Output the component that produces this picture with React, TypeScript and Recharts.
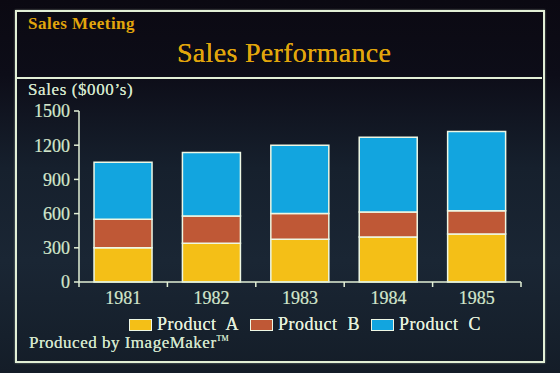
import { Bar, BarChart, XAxis, YAxis } from 'recharts'

const years = ['1981', '1982', '1983', '1984', '1985']
const productA = [300, 340, 375, 395, 420]
const productB = [250, 240, 225, 220, 205]
const productC = [500, 555, 600, 655, 695]
const yTicks = [0, 300, 600, 900, 1200, 1500]

const series = [
  { key: 'a', name: 'Product  A', color: '#f4bf17', values: productA },
  { key: 'b', name: 'Product  B', color: '#bf5836', values: productB },
  { key: 'c', name: 'Product  C', color: '#12a5df', values: productC },
]

const rows = years.map((year, i) => {
  const row: Record<string, string | number> = { year }
  for (const s of series) row[s.key] = s.values[i]
  return row
})

const W = 560
const H = 373
const Y_AXIS_W = 60
const MARGIN = { top: 111, right: 39, bottom: 61, left: 19 }
const BAND = (W - MARGIN.left - Y_AXIS_W - MARGIN.right) / years.length

const FONT = '"Liberation Serif", "DejaVu Serif", serif'
const INK = '#d3e6cc'
const LINE = '#e2efd6'
const GOLD = '#e2a60c'
const GLOW = '0 0 0.5px currentColor'

function YearTick({ x, y, payload, index }: any) {
  const half = BAND / 2
  return (
    <g>
      <line x1={x - half} y1={y} x2={x - half} y2={y + 5} stroke={LINE} strokeWidth={1.5} />
      {index === years.length - 1 && (
        <line x1={x + half} y1={y} x2={x + half} y2={y + 5} stroke={LINE} strokeWidth={1.5} />
      )}
      <text
        x={x}
        y={y + 22}
        textAnchor="middle"
        fill={INK}
        stroke={INK}
        strokeWidth={0.2}
        fontSize={18}
        fontFamily={FONT}
      >
        {payload.value}
      </text>
    </g>
  )
}

export default function App() {
  return (
    <div
      style={{
        position: 'fixed',
        left: 0,
        top: 0,
        width: W,
        height: H,
        overflow: 'hidden',
        fontFamily: FONT,
        background:
          'linear-gradient(180deg, #0b0912 0%, #0d0d18 20%, #16202d 45%, #1a2634 70%, #141d28 100%)',
      }}
    >
      <div
        style={{
          position: 'absolute',
          left: 15,
          top: 10,
          width: 526,
          height: 349,
          border: `2px solid ${LINE}`,
          boxShadow: '0 0 2px rgba(220,240,210,0.5)',
        }}
      />
      <div
        style={{
          position: 'absolute',
          left: 16,
          top: 77,
          width: 526,
          height: 2,
          background: LINE,
        }}
      />
      <div
        style={{
          position: 'absolute',
          left: 28,
          top: 14,
          color: GOLD,
          fontSize: 17,
          fontWeight: 'bold',
          letterSpacing: 0.5,
          whiteSpace: 'nowrap',
        }}
      >
        Sales Meeting
      </div>
      <div
        style={{
          position: 'absolute',
          left: 177,
          top: 37,
          color: GOLD,
          fontSize: 28,
          letterSpacing: 0.3,
          textShadow: GLOW,
          whiteSpace: 'nowrap',
        }}
      >
        Sales Performance
      </div>
      <div
        style={{
          position: 'absolute',
          left: 28,
          top: 80,
          color: INK,
          fontSize: 17,
          letterSpacing: 0.6,
          textShadow: GLOW,
          whiteSpace: 'nowrap',
        }}
      >
        Sales ($000’s)
      </div>

      <div style={{ position: 'absolute', left: 0, top: 0 }}>
        <BarChart width={W} height={H} data={rows} margin={MARGIN} barCategoryGap="17%">
          <XAxis
            dataKey="year"
            stroke={LINE}
            axisLine={{ stroke: LINE, strokeWidth: 1.5 }}
            tickLine={false}
            tickSize={0}
            tickMargin={0}
            height={30}
            tick={<YearTick />}
            interval={0}
          />
          <YAxis
            width={Y_AXIS_W}
            domain={[0, 1500]}
            ticks={yTicks}
            interval={0}
            axisLine={{ stroke: LINE, strokeWidth: 1.5 }}
            tickLine={{ stroke: LINE, strokeWidth: 1.5 }}
            tickSize={5}
            tickMargin={4}
            tick={{ fill: INK, stroke: INK, strokeWidth: 0.2, fontSize: 18, fontFamily: FONT }}
          />
          {series.map((s) => (
            <Bar
              key={s.key}
              dataKey={s.key}
              name={s.name}
              stackId="sales"
              fill={s.color}
              stroke="#eef7e4"
              strokeWidth={1.5}
              isAnimationActive={false}
            />
          ))}
        </BarChart>
      </div>

      <div
        style={{
          position: 'absolute',
          left: 129,
          top: 314,
          display: 'flex',
          alignItems: 'center',
          color: '#e4f0dc',
          fontSize: 18,
          letterSpacing: 0.5,
          textShadow: GLOW,
          whiteSpace: 'pre',
        }}
      >
        {series.map((s) => (
          <div key={s.key} style={{ display: 'flex', alignItems: 'center', marginRight: 11 }}>
            <span
              style={{
                display: 'inline-block',
                width: 21,
                height: 10,
                background: s.color,
                border: '1.5px solid #eef7e4',
                marginRight: 5,
              }}
            />
            <span>{s.name}</span>
          </div>
        ))}
      </div>

      <div
        style={{
          position: 'absolute',
          left: 29,
          top: 333,
          color: INK,
          fontSize: 17,
          letterSpacing: 0.5,
          textShadow: GLOW,
          whiteSpace: 'nowrap',
        }}
      >
        Produced by ImageMaker
        <sup style={{ fontSize: 8, letterSpacing: 0 }}>TM</sup>
      </div>
    </div>
  )
}
